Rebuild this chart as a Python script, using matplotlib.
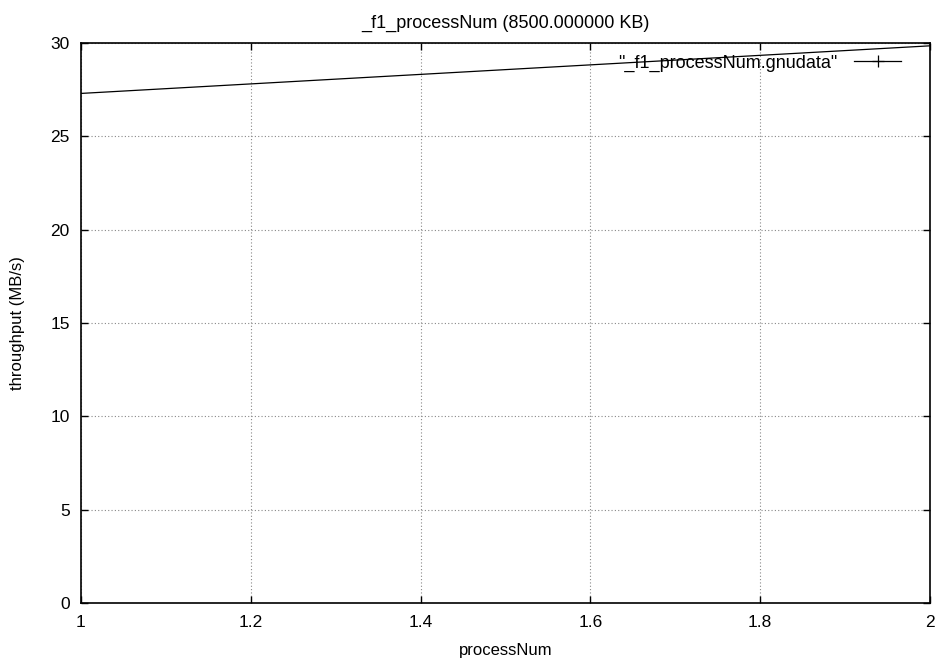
import matplotlib
matplotlib.use("Agg")
import matplotlib.pyplot as plt
from matplotlib.lines import Line2D

# Data
process_num = [1, 2]
throughput = [27.3, 29.85]
x_ticks = [1.0, 1.2, 1.4, 1.6, 1.8, 2.0]
x_tick_labels = ["1", "1.2", "1.4", "1.6", "1.8", "2"]
y_ticks = [0, 5, 10, 15, 20, 25, 30]

plt.rcParams["font.family"] = ["Liberation Sans", "DejaVu Sans"]
plt.rcParams["font.size"] = 12

fig = plt.figure(figsize=(9.35, 6.64), dpi=100)
ax = fig.add_axes([0.0866, 0.0919, 0.908, 0.8433])

ax.plot(process_num, throughput, color="black", linewidth=0.9)

ax.set_xlim(1, 2)
ax.set_ylim(0, 30)
ax.set_xticks(x_ticks)
ax.set_xticklabels(x_tick_labels)
ax.set_yticks(y_ticks)

ax.grid(True, color="#888888", linestyle=(0, (1, 2)), linewidth=0.8)
ax.tick_params(direction="in", length=5, width=1, top=True, right=True,
               labelsize=12.5)
ax.tick_params(axis="x", pad=9)
ax.tick_params(axis="y", pad=8)
for sp in ax.spines.values():
    sp.set_linewidth(1.2)

ax.set_xlabel("processNum", labelpad=9, fontsize=12)
ax.set_ylabel("throughput (MB/s)", labelpad=18, fontsize=12)
ax.set_title("_f1_processNum (8500.000000 KB)", pad=11, fontsize=13)

handle = Line2D([], [], color="black", linewidth=0.9, marker="+",
                markersize=8, markeredgewidth=0.9)
ax.legend([handle], ['"_f1_processNum.gnudata"'], loc="upper right",
          frameon=False, markerfirst=False, handlelength=2.6,
          handletextpad=0.9, borderaxespad=1.2, fontsize=13,
          bbox_to_anchor=(1.0, 1.031))

fig.savefig("out.png", dpi=100)
